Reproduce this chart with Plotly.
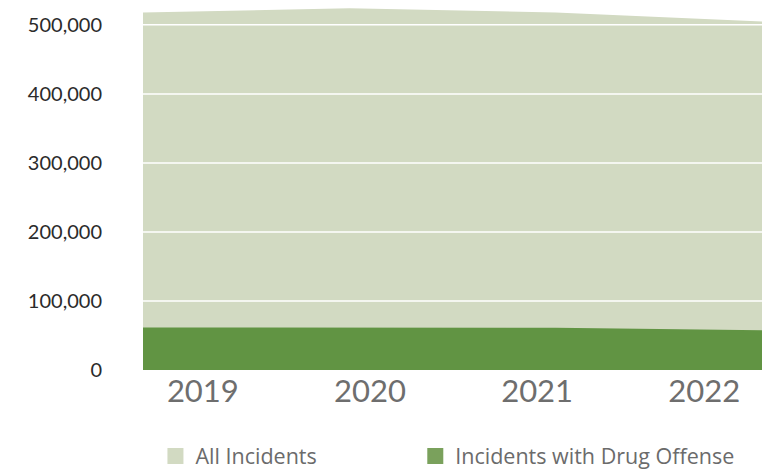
import plotly.graph_objects as go

years = [2019, 2020, 2021, 2022]
all_incidents = [518000, 524000, 518000, 505000]
drug_incidents = [61500, 61500, 61300, 57500]
year_labels = ["2019", "2020", "2021", "2022"]
y_ticks = [0, 100000, 200000, 300000, 400000, 500000]
y_labels = ["0", "100,000", "200,000", "300,000", "400,000", "500,000"]

LIGHT = "#d2dac2"
DARK = "#619443"
FONT = "Lato"
LEG_FONT = "Open Sans"

fig = go.Figure()
fig.add_trace(go.Scatter(x=years, y=all_incidents, mode="lines", line=dict(width=0, color=LIGHT),
                         fill="tozeroy", fillcolor=LIGHT, showlegend=False, hoverinfo="skip"))
fig.add_trace(go.Scatter(x=years, y=drug_incidents, mode="lines", line=dict(width=0, color=DARK),
                         fill="tozeroy", fillcolor=DARK, showlegend=False, hoverinfo="skip"))
# legend proxies
fig.add_trace(go.Scatter(x=[None], y=[None], mode="markers", name="All Incidents", legend="legend",
                         marker=dict(symbol="square", size=18, color=LIGHT)))
fig.add_trace(go.Scatter(x=[None], y=[None], mode="markers", name="Incidents with Drug Offense",
                         legend="legend2", marker=dict(symbol="square", size=18, color="#7aa15c")))

for v in y_ticks[1:]:
    fig.add_shape(type="line", xref="paper", x0=0, x1=1, yref="y", y0=v, y1=v,
                  line=dict(color="white", width=1.5), layer="above")

# tick label positions (presentation only)
tick_pos = [2019.29, 2020.10, 2020.91, 2021.72]

leg_common = dict(orientation="h", xref="container", yref="container", xanchor="left",
                  y=0.03, yanchor="middle", itemsizing="trace",
                  font=dict(size=21.5, color="#6b6b6b", family=LEG_FONT))

fig.update_layout(
    width=762, height=470,
    margin=dict(l=143, r=0, t=0, b=100, autoexpand=False),
    paper_bgcolor="white", plot_bgcolor="white",
    font=dict(family=FONT),
    xaxis=dict(range=[2019, 2022], tickvals=tick_pos, ticktext=year_labels, showgrid=False,
               zeroline=False, showline=False, ticks="", automargin=False,
               tickfont=dict(size=31, color="#6e6e6e", family=FONT)),
    yaxis=dict(range=[0, 536000], tickvals=y_ticks, ticktext=y_labels, showgrid=False,
               zeroline=False, showline=False, ticks="", ticklabelstandoff=40, automargin=False,
               tickfont=dict(size=20, color="#2b2b2b", family=FONT)),
    legend=dict(x=0.204, **leg_common),
    legend2=dict(x=0.545, **leg_common),
)

fig.write_html("out.html", config={"displayModeBar": False},
               post_script="document.body.style.margin='0';document.body.style.overflow='hidden';")
